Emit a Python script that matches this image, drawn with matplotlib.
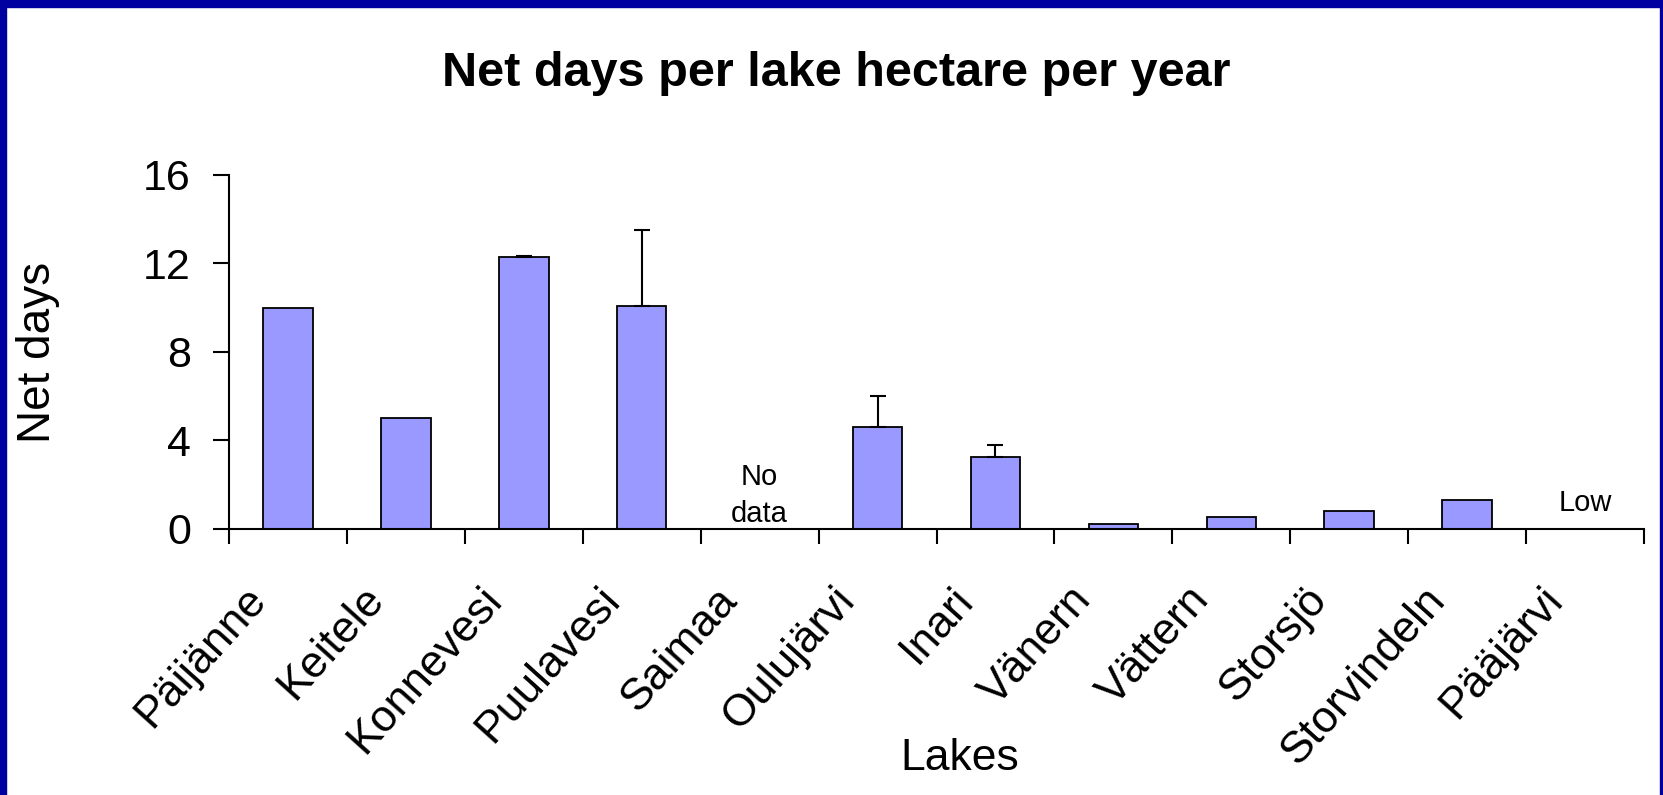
import matplotlib
matplotlib.use('Agg')
import matplotlib.pyplot as plt
from matplotlib.patches import Rectangle
from matplotlib.transforms import ScaledTranslation

lakes = ['Päijänne', 'Keitele', 'Konnevesi', 'Puulavesi', 'Saimaa', 'Oulujärvi',
         'Inari', 'Vänern', 'Vättern', 'Storsjö', 'Storvindeln', 'Pääjärvi']
net_days = [10.0, 5.0, 12.3, 10.1, 0.0, 4.6, 3.25, 0.22, 0.55, 0.8, 1.33, 0.0]
err_up = [0.0, 0.0, 0.02, 3.4, 0.0, 1.4, 0.55, 0.0, 0.0, 0.0, 0.0, 0.0]
y_ticks = [0, 4, 8, 12, 16]

plt.rcParams['font.family'] = ['Liberation Sans', 'DejaVu Sans']

fig = plt.figure(figsize=(16.63, 7.95), dpi=100)
ax = fig.add_axes([0.1377, 0.3346, 0.8509, 0.4453])

x = list(range(len(lakes)))
ax.bar(x, net_days, width=0.42, color='#9999FF', edgecolor='black', linewidth=1.3, zorder=2)

ex, ey, ee = [], [], []
for i, (v, e) in enumerate(zip(net_days, err_up)):
    if e > 0:
        ex.append(i)
        ey.append(v)
        ee.append(e)
ax.errorbar(ex, ey, yerr=[[0] * len(ee), ee], fmt='none', ecolor='black',
            elinewidth=1.5, capsize=6, capthick=1.5, zorder=3)

ax.text(4, 1.5, 'No\ndata', ha='center', va='center', fontsize=21, linespacing=1.4)
ax.text(11, 1.18, 'Low', ha='center', va='center', fontsize=21)

ax.set_xlim(-0.5, len(lakes) - 0.5)
ax.set_ylim(0, 16)
ax.set_yticks(y_ticks)

# tick marks between categories, labels at category centres
ax.set_xticks([i - 0.5 for i in range(len(lakes) + 1)])
ax.set_xticklabels([])
ax.set_xticks(x, minor=True)
ax.set_xticklabels(lakes, minor=True, rotation=48, ha='right', va='top', fontsize=32)
ax.tick_params(axis='x', which='major', direction='out', length=11, width=1.5)
ax.tick_params(axis='x', which='minor', length=0, pad=36)
ax.tick_params(axis='y', direction='out', length=11.5, width=1.5, labelsize=31, pad=16)
shift = ScaledTranslation(-14 / 100, 0, fig.dpi_scale_trans)
for lab in ax.get_xticklabels(minor=True):
    lab.set_transform(lab.get_transform() + shift)

for s in ['top', 'right']:
    ax.spines[s].set_visible(False)
ax.spines['left'].set_linewidth(1.5)
ax.spines['bottom'].set_linewidth(1.5)

ax.set_ylabel('Net days', fontsize=33)
ax.yaxis.set_label_coords(-0.1194, 0.5)
ax.set_xlabel('Lakes', fontsize=32)
ax.xaxis.set_label_coords(0.5166, -0.59)

fig.suptitle('Net days per lake hectare per year', fontsize=35, fontweight='bold',
             x=0.503, y=0.892, va='baseline')

# navy frame around the slide
navy = '#0000A0'
W, H = 1663, 795
fig.patches.append(Rectangle((0, 0), 6 / W, 1, transform=fig.transFigure, color=navy))
fig.patches.append(Rectangle((0, 1 - 7 / H), 1, 7 / H, transform=fig.transFigure, color=navy))
fig.patches.append(Rectangle((1 - 3 / W, 0), 3 / W, 1, transform=fig.transFigure, color=navy))

fig.savefig('out.png', dpi=100)
